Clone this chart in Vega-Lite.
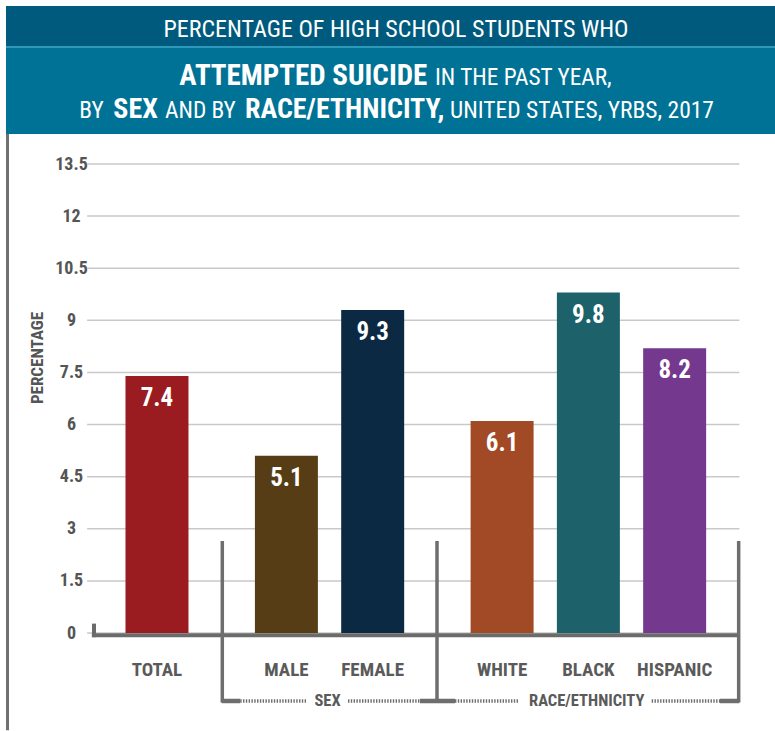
{
  "$schema": "https://vega.github.io/schema/vega-lite/v6.json",
  "width": 769,
  "height": 469,
  "padding": {"left": 6, "top": 5, "right": 0, "bottom": 0},
  "background": "white",
  "config": {
    "view": {"stroke": null},
    "font": "'Roboto Condensed', 'Liberation Sans Narrow', 'DejaVu Sans Condensed', 'Arial Narrow', 'Liberation Sans', sans-serif",
    "text": {"font": "'Roboto Condensed', 'Liberation Sans Narrow', 'DejaVu Sans Condensed', 'Arial Narrow', 'Liberation Sans', sans-serif"}
  },
  "resolve": {"axis": {"x": "independent", "y": "independent"}},
  "datasets": {
    "bars": [
      {"category": "TOTAL", "pct": 7.4},
      {"category": "MALE", "pct": 5.1},
      {"category": "FEMALE", "pct": 9.3},
      {"category": "WHITE", "pct": 6.1},
      {"category": "BLACK", "pct": 9.8},
      {"category": "HISPANIC", "pct": 8.2}
    ],
    "grid": [
      {"v": 0}, {"v": 1.5}, {"v": 3}, {"v": 4.5}, {"v": 6}, {"v": 7.5}, {"v": 9}, {"v": 10.5}, {"v": 12}, {"v": 13.5}
    ]
  },
  "data": {"name": "bars"},
  "layer": [
    {
      "data": {"values": [{}]},
      "mark": {"type": "rect", "color": "#005a7d"},
      "encoding": {"y": {"datum": 18.05, "axis": null}, "y2": {"datum": 16.897}}
    },
    {
      "data": {"values": [{}]},
      "mark": {"type": "rect", "color": "#2d98ba"},
      "encoding": {"y": {"datum": 16.897, "axis": null}, "y2": {"datum": 16.839}}
    },
    {
      "data": {"values": [{}]},
      "mark": {"type": "rect", "color": "#007296"},
      "encoding": {"y": {"datum": 16.839, "axis": null}, "y2": {"datum": 14.364}}
    },
    {
      "data": {"values": [{}]},
      "mark": {"type": "text", "color": "white", "fontSize": 24, "align": "center", "baseline": "alphabetic"},
      "encoding": {"x": {"datum": "_e", "bandPosition": 0.04, "axis": null}, "y": {"datum": 17.165, "axis": null}, "text": {"value": "PERCENTAGE OF HIGH SCHOOL STUDENTS WHO"}}
    },
    {
      "data": {"values": [{}]},
      "mark": {"type": "text", "color": "white", "fontSize": 29, "fontWeight": "bold", "align": "left", "baseline": "alphabetic"},
      "encoding": {"x": {"datum": "_b", "bandPosition": 0.017, "axis": null}, "y": {"datum": 15.766, "axis": null}, "text": {"value": "ATTEMPTED SUICIDE"}}
    },
    {
      "data": {"values": [{}]},
      "mark": {"type": "text", "color": "white", "fontSize": 23.3, "align": "left", "baseline": "alphabetic"},
      "encoding": {"x": {"datum": "_e", "bandPosition": 0.944, "axis": null}, "y": {"datum": 15.766, "axis": null}, "text": {"value": "IN THE PAST YEAR,"}}
    },
    {
      "data": {"values": [{}]},
      "mark": {"type": "text", "color": "white", "fontSize": 23.3, "align": "left", "baseline": "alphabetic"},
      "encoding": {"x": {"datum": "_L2", "bandPosition": 0.699, "axis": null}, "y": {"datum": 14.833, "axis": null}, "text": {"value": "BY"}}
    },
    {
      "data": {"values": [{}]},
      "mark": {"type": "text", "color": "white", "fontSize": 28, "fontWeight": "bold", "align": "left", "baseline": "alphabetic"},
      "encoding": {"x": {"datum": "_a", "bandPosition": 0.487, "axis": null}, "y": {"datum": 14.833, "axis": null}, "text": {"value": "SEX"}}
    },
    {
      "data": {"values": [{}]},
      "mark": {"type": "text", "color": "white", "fontSize": 23.3, "align": "left", "baseline": "alphabetic"},
      "encoding": {"x": {"datum": "TOTAL", "bandPosition": 0.686, "axis": null}, "y": {"datum": 14.833, "axis": null}, "text": {"value": "AND BY"}}
    },
    {
      "data": {"values": [{}]},
      "mark": {"type": "text", "color": "white", "fontSize": 28, "fontWeight": "bold", "align": "left", "baseline": "alphabetic"},
      "encoding": {"x": {"datum": "_c", "bandPosition": 0.54, "axis": null}, "y": {"datum": 14.833, "axis": null}, "text": {"value": "RACE/ETHNICITY,"}}
    },
    {
      "data": {"values": [{}]},
      "mark": {"type": "text", "color": "white", "fontSize": 23.5, "align": "left", "baseline": "alphabetic"},
      "encoding": {"x": {"datum": "_f", "bandPosition": 0.292, "axis": null}, "y": {"datum": 14.833, "axis": null}, "text": {"value": "UNITED STATES, YRBS, 2017"}}
    },
    {
      "data": {"values": [{}]},
      "mark": {"type": "rule", "color": "#707070", "strokeWidth": 3},
      "encoding": {"x": {"datum": "_L1", "bandPosition": 0.035, "axis": null}, "y": {"datum": 14.364, "axis": null}, "y2": {"datum": -2.8}}
    },
    {
      "data": {"name": "grid"},
      "mark": {"type": "rule", "color": "#c9c9c9", "strokeWidth": 1.5},
      "encoding": {
        "x": {"datum": "_L2", "bandPosition": 0.88, "axis": null},
        "x2": {"datum": "_i", "bandPosition": 1},
        "y": {"field": "v", "type": "quantitative", "axis": null}
      }
    },
    {
      "mark": {"type": "bar", "width": {"band": 1.46}},
      "encoding": {
        "x": {
          "field": "category",
          "type": "nominal",
          "sort": null,
          "scale": {
            "domain": ["_L1", "_L2", "_a", "TOTAL", "_b", "_c", "MALE", "_d", "FEMALE", "_e", "_f", "WHITE", "_g", "BLACK", "_h", "HISPANIC", "_i"],
            "paddingInner": 0,
            "paddingOuter": 0.413,
            "align": 0
          },
          "axis": {
            "values": ["TOTAL", "MALE", "FEMALE", "WHITE", "BLACK", "HISPANIC"],
            "title": null,
            "domain": false,
            "ticks": false,
            "grid": false,
            "labelAngle": 0,
            "labelFontSize": 19,
            "labelFontWeight": "bold",
            "labelColor": "#5a5a5a",
            "labelBaseline": "alphabetic",
            "labelPadding": 42
          }
        },
        "y": {
          "field": "pct",
          "type": "quantitative",
          "scale": {"domain": [0, 13.5], "nice": false, "zero": true},
          "axis": {
            "values": [0, 1.5, 3, 4.5, 6, 7.5, 9, 10.5, 12, 13.5],
            "format": ".3~g",
            "offset": -82,
            "domain": false,
            "ticks": false,
            "grid": false,
            "labelAlign": "center",
            "labelBaseline": "middle",
            "labelPadding": 17,
            "labelFontSize": 18,
            "labelFontWeight": "bold",
            "labelColor": "#555555",
            "title": "PERCENTAGE",
            "titleFontSize": 17,
            "titleFontWeight": "bold",
            "titleColor": "#555555",
            "titleAngle": 270,
            "titleAlign": "center",
            "titleBaseline": "middle",
            "titleX": -51,
            "titleY": 193.5
          }
        },
        "color": {
          "field": "category",
          "type": "nominal",
          "scale": {
            "domain": ["TOTAL", "MALE", "FEMALE", "WHITE", "BLACK", "HISPANIC"],
            "range": ["#9b1c20", "#573d16", "#0b2942", "#a14a25", "#1d616a", "#74388f"]
          },
          "legend": null
        }
      }
    },
    {
      "mark": {"type": "text", "color": "white", "fontSize": 25, "fontWeight": "bold", "align": "center", "baseline": "middle", "dy": 22},
      "encoding": {
        "x": {"field": "category", "type": "nominal", "axis": null},
        "y": {"field": "pct", "type": "quantitative", "axis": null},
        "text": {"field": "pct", "type": "quantitative", "format": ".1f"}
      }
    },
    {
      "data": {"values": [{}]},
      "mark": {"type": "rule", "color": "#6b6b6b", "strokeWidth": 4},
      "encoding": {"x": {"datum": "_L2", "bandPosition": 0.99, "axis": null}, "x2": {"datum": "_i", "bandPosition": 1}, "y": {"datum": -0.065, "axis": null}}
    },
    {
      "data": {"values": [{}]},
      "mark": {"type": "rule", "color": "#6b6b6b", "strokeWidth": 4},
      "encoding": {"x": {"datum": "_a", "bandPosition": 0.04, "axis": null}, "y": {"datum": 0.27, "axis": null}, "y2": {"datum": -0.12}}
    },
    {
      "data": {"values": [{}]},
      "mark": {"type": "rule", "color": "#6e6e6e", "strokeWidth": 3.5},
      "encoding": {"x": {"datum": "_c", "bandPosition": 0.014, "axis": null}, "y": {"datum": 2.648, "axis": null}, "y2": {"datum": -2.0}}
    },
    {
      "data": {"values": [{}]},
      "mark": {"type": "rule", "color": "#6e6e6e", "strokeWidth": 3.5},
      "encoding": {"x": {"datum": "_e", "bandPosition": 0.991, "axis": null}, "y": {"datum": 2.648, "axis": null}, "y2": {"datum": -2.0}}
    },
    {
      "data": {"values": [{}]},
      "mark": {"type": "rule", "color": "#6e6e6e", "strokeWidth": 3.5},
      "encoding": {"x": {"datum": "_i", "bandPosition": 0.984, "axis": null}, "y": {"datum": 2.648, "axis": null}, "y2": {"datum": -2.0}}
    },
    {
      "data": {"values": [{}]},
      "mark": {"type": "rule", "color": "#6e6e6e", "strokeWidth": 4.5},
      "encoding": {"x": {"datum": "_c", "bandPosition": 0, "axis": null}, "x2": {"datum": "_c", "bandPosition": 0.43}, "y": {"datum": -1.957, "axis": null}}
    },
    {
      "data": {"values": [{}]},
      "mark": {"type": "rule", "color": "#6e6e6e", "strokeWidth": 4.5},
      "encoding": {"x": {"datum": "_e", "bandPosition": 0.597, "axis": null}, "x2": {"datum": "_f", "bandPosition": 0.408}, "y": {"datum": -1.957, "axis": null}}
    },
    {
      "data": {"values": [{}]},
      "mark": {"type": "rule", "color": "#6e6e6e", "strokeWidth": 4.5},
      "encoding": {"x": {"datum": "_i", "bandPosition": 0.551, "axis": null}, "x2": {"datum": "_i", "bandPosition": 0.995}, "y": {"datum": -1.957, "axis": null}}
    },
    {
      "data": {"values": [{}]},
      "mark": {"type": "rule", "color": "#6e6e6e", "strokeWidth": 3.5, "strokeDash": [1.4, 1.4]},
      "encoding": {"x": {"datum": "_c", "bandPosition": 0.43, "axis": null}, "x2": {"datum": "MALE", "bandPosition": 0.97}, "y": {"datum": -1.957, "axis": null}}
    },
    {
      "data": {"values": [{}]},
      "mark": {"type": "rule", "color": "#6e6e6e", "strokeWidth": 3.5, "strokeDash": [1.4, 1.4]},
      "encoding": {"x": {"datum": "_d", "bandPosition": 0.928, "axis": null}, "x2": {"datum": "_e", "bandPosition": 0.597}, "y": {"datum": -1.957, "axis": null}}
    },
    {
      "data": {"values": [{}]},
      "mark": {"type": "rule", "color": "#6e6e6e", "strokeWidth": 3.5, "strokeDash": [1.4, 1.4]},
      "encoding": {"x": {"datum": "_f", "bandPosition": 0.408, "axis": null}, "x2": {"datum": "WHITE", "bandPosition": 0.868}, "y": {"datum": -1.957, "axis": null}}
    },
    {
      "data": {"values": [{}]},
      "mark": {"type": "rule", "color": "#6e6e6e", "strokeWidth": 3.5, "strokeDash": [1.4, 1.4]},
      "encoding": {"x": {"datum": "_h", "bandPosition": 0.968, "axis": null}, "x2": {"datum": "_i", "bandPosition": 0.551}, "y": {"datum": -1.957, "axis": null}}
    },
    {
      "data": {"values": [{}]},
      "mark": {"type": "text", "color": "#5a5a5a", "fontSize": 16.5, "fontWeight": "bold", "align": "center", "baseline": "alphabetic"},
      "encoding": {"x": {"datum": "_d", "bandPosition": 0.453, "axis": null}, "y": {"datum": -2.1, "axis": null}, "text": {"value": "SEX"}}
    },
    {
      "data": {"values": [{}]},
      "mark": {"type": "text", "color": "#5a5a5a", "fontSize": 16.5, "fontWeight": "bold", "align": "center", "baseline": "alphabetic"},
      "encoding": {"x": {"datum": "BLACK", "bandPosition": 0.461, "axis": null}, "y": {"datum": -2.1, "axis": null}, "text": {"value": "RACE/ETHNICITY"}}
    }
  ]
}
